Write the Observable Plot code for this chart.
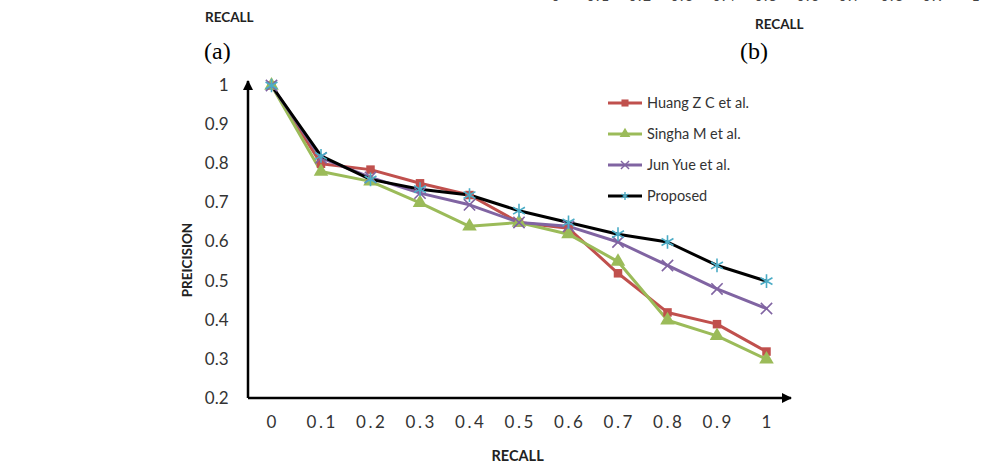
<!DOCTYPE html>
<html><head>
<meta charset="utf-8">
<script src="https://cdn.jsdelivr.net/npm/d3@7"></script>
<script src="https://cdn.jsdelivr.net/npm/@observablehq/plot@0.6"></script>
<style>
body{margin:0;background:#fff;width:998px;height:466px;overflow:hidden;position:relative;font-family:Lato,"Open Sans",sans-serif}
.abs{position:absolute;white-space:nowrap}
#head{position:relative;height:70px}
.recall{font-weight:bold;font-size:13.5px;color:#222}
.sub{font-family:"Liberation Serif","DejaVu Serif",serif;font-size:24px;color:#000}
.cut{font-size:14px;color:#444;letter-spacing:1.5px}
.cutl{font-size:14px;color:#e6e6e6;letter-spacing:1.5px}
#chart{position:absolute;left:0;top:70px}
#ylab{font-weight:bold;font-size:13.5px;color:#222;transform:rotate(-90deg);transform-origin:center}
#xlab{font-weight:bold;font-size:14.5px;color:#222}
.leg{position:absolute;display:flex;align-items:center;font-size:14.5px;color:#333}
.leg svg{margin-right:4px}
</style></head><body>
<div id="head"></div>
<div id="chart"></div>
<script>
// ---- data ----
const recall = [0, 0.1, 0.2, 0.3, 0.4, 0.5, 0.6, 0.7, 0.8, 0.9, 1];
const huang  = [1.0, 0.80, 0.785, 0.75, 0.72, 0.65, 0.635, 0.52, 0.42, 0.39, 0.32];
const singha = [1.0, 0.78, 0.755, 0.70, 0.64, 0.65, 0.62, 0.55, 0.40, 0.36, 0.30];
const junyue = [1.0, 0.815, 0.765, 0.725, 0.695, 0.65, 0.64, 0.60, 0.54, 0.48, 0.43];
const proposed = [1.0, 0.82, 0.76, 0.735, 0.72, 0.68, 0.65, 0.62, 0.60, 0.54, 0.50];
const seriesNames = ["Huang Z C et al.", "Singha M et al.", "Jun Yue et al.", "Proposed"];
const xTicks = [0, 0.1, 0.2, 0.3, 0.4, 0.5, 0.6, 0.7, 0.8, 0.9, 1];
const yTicks = [0.2, 0.3, 0.4, 0.5, 0.6, 0.7, 0.8, 0.9, 1];
const prevTicks = ["0", "0.1", "0.2", "0.3", "0.4", "0.5", "0.6", "0.7", "0.8", "0.9", "1"];

const styles = [
  {line: "#C0504D", mark: "#C0504D", symbol: "square", fill: true, r: 4.8},
  {line: "#9BBB59", mark: "#9BBB59", symbol: "triangle", fill: true, r: 5.4},
  {line: "#8064A2", mark: "#8064A2", symbol: "times", fill: false, r: 5.2},
  {line: "#000000", mark: "#4BACC6", symbol: "asterisk", fill: false, r: 6.5}
];
const allVals = [huang, singha, junyue, proposed];
const data = allVals.map((vals, k) => recall.map((r, i) => ({recall: r, precision: vals[i], series: seriesNames[k]})));

// ---- header (remnants of previous figure row) ----
const head = document.getElementById("head");
head.innerHTML = `
  <div class="abs recall" style="left:205px;top:9px">RECALL</div>
  <div class="abs recall" style="left:755px;top:16px">RECALL</div>
  <div class="abs sub" style="left:204px;top:38px">(a)</div>
  <div class="abs sub" style="left:740px;top:38px">(b)</div>`;
prevTicks.forEach((t, i) => {
  const d = document.createElement("div");
  d.className = "abs cut";
  d.style.left = (555 + i * 42 - t.length * 3.5) + "px";
  d.style.top = "-13px";
  d.textContent = t;
  head.appendChild(d);
  const e = document.createElement("div");
  e.className = "abs cutl";
  e.style.left = (17 + i * 42.3 - t.length * 3.5) + "px";
  e.style.top = "-14px";
  e.textContent = t;
  head.appendChild(e);
});

// ---- chart ----
const marks = [
  Plot.axisX({ticks: xTicks, tickSize: 0, tickPadding: 17, fontSize: 17, label: null,
    tickFormat: d => String(+d.toFixed(1)), fill: "#333"}),
  Plot.axisY({ticks: yTicks, tickSize: 0, tickPadding: 20, fontSize: 17, label: null,
    tickFormat: d => String(+d.toFixed(1)), fill: "#333"})
];
data.forEach((d, k) => {
  const s = styles[k];
  marks.push(Plot.line(d, {x: "recall", y: "precision", stroke: s.line, strokeWidth: 3}));
});
data.forEach((d, k) => {
  const s = styles[k];
  marks.push(Plot.dot(d, {x: "recall", y: "precision", symbol: s.symbol, r: s.r,
    fill: s.fill ? s.mark : "none", stroke: s.mark, strokeWidth: s.fill ? 0 : 1.6}));
});

const plot = Plot.plot({
  width: 998, height: 396,
  marginLeft: 248, marginRight: 232, marginTop: 15, marginBottom: 68,
  insetLeft: 23,
  x: {domain: [0, 1]},
  y: {domain: [0.2, 1]},
  style: {fontFamily: "Lato, 'Open Sans', sans-serif", background: "transparent", overflow: "visible"},
  marks
});
const sx = plot.scale("x"), sy = plot.scale("y");
const svg = d3.select(plot);
// wider spacing for x tick labels, as in the reference
svg.selectAll("g[aria-label='x-axis tick label'] text")
  .style("letter-spacing", "2.5px").attr("dx", "1.2");
const defs = svg.insert("defs", ":first-child");
defs.append("marker").attr("id", "arr").attr("viewBox", "0 0 10 10").attr("refX", 9).attr("refY", 5)
  .attr("markerWidth", 10).attr("markerHeight", 10).attr("markerUnits", "userSpaceOnUse").attr("orient", "auto")
  .append("path").attr("d", "M0,0L10,5L0,10Z").attr("fill", "#000");
const x0 = sx.apply(0) - 23, yb = sy.apply(0.2);
const axes = svg.insert("g", "g");
axes.append("line").attr("x1", x0).attr("x2", sx.apply(1) + 25).attr("y1", yb).attr("y2", yb)
  .attr("stroke", "#000").attr("stroke-width", 2.5).attr("marker-end", "url(#arr)");
axes.append("line").attr("x1", x0).attr("x2", x0).attr("y1", yb).attr("y2", sy.apply(1) - 4)
  .attr("stroke", "#000").attr("stroke-width", 2.5).attr("marker-end", "url(#arr)");
document.getElementById("chart").appendChild(plot);

// axis titles
const yl = document.createElement("div");
yl.className = "abs"; yl.id = "ylab"; yl.textContent = "PREICISION";
document.body.appendChild(yl);
yl.style.left = (187 - yl.offsetWidth / 2) + "px";
yl.style.top = (70 + (sy.apply(0.5) + sy.apply(0.6)) / 2 - yl.offsetHeight / 2 - 1) + "px";
const xl = document.createElement("div");
xl.className = "abs"; xl.id = "xlab"; xl.textContent = "RECALL";
document.body.appendChild(xl);
xl.style.left = (sx.apply(0.5) - 1 - xl.offsetWidth / 2) + "px";
xl.style.top = "447px";

// legend
const symMap = {square: d3.symbolSquare, triangle: d3.symbolTriangle, times: d3.symbolTimes, asterisk: d3.symbolAsterisk};
seriesNames.forEach((name, k) => {
  const s = styles[k];
  const item = document.createElement("div");
  item.className = "leg";
  item.style.left = "607px";
  item.style.top = (94 + k * 31) + "px";
  const g = d3.create("svg").attr("width", 36).attr("height", 16);
  g.append("line").attr("x1", 1).attr("x2", 35).attr("y1", 8).attr("y2", 8).attr("stroke", s.line).attr("stroke-width", 3);
  g.append("path").attr("transform", "translate(18,8)")
    .attr("d", d3.symbol(symMap[s.symbol], s.fill ? 50 : 45)())
    .attr("fill", s.fill ? s.mark : "none").attr("stroke", s.mark).attr("stroke-width", s.fill ? 0 : 1.4);
  item.appendChild(g.node());
  const t = document.createElement("span");
  t.textContent = name;
  item.appendChild(t);
  document.body.appendChild(item);
});
</script>
</body></html>
